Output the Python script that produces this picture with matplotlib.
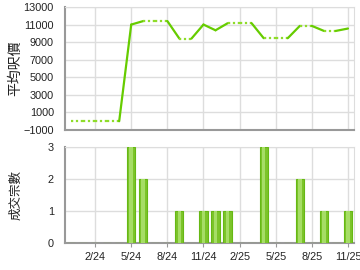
import numpy as np, matplotlib; matplotlib.use('Agg')
import matplotlib.pyplot as plt

plt.rcParams['font.family'] = ['Liberation Sans', 'Noto Sans CJK TC', 'DejaVu Sans']

# monthly series Dec-2023 .. Nov-2025 (None = no transaction that month)
months = ['12/23','1/24','2/24','3/24','4/24','5/24','6/24','7/24','8/24','9/24','10/24','11/24',
          '12/24','1/25','2/25','3/25','4/25','5/25','6/25','7/25','8/25','9/25','10/25','11/25']
price = [0, None, None, None, None, 11000, 11400, None, None, 9400, None, 11000,
         10350, 11150, None, None, 9450, None, None, 10850, None, 10280, None, 10550]
count = [0, 0, 0, 0, 0, 3, 2, 0, 0, 1, 0, 1, 1, 1, 0, 0, 3, 0, 0, 2, 0, 1, 0, 1]
tick_idx = [2, 5, 8, 11, 14, 17, 20, 23]
tick_lab = ['2/24','5/24','8/24','11/24','2/25','5/25','8/25','11/25']

fig = plt.figure(figsize=(3.6, 2.7), dpi=100)
ax1 = fig.add_axes([65/360, 1-130/270, 289/360, 123/270])
ax2 = fig.add_axes([65/360, 1-243/270, 289/360, 96/270])

for ax in (ax1, ax2):
    ax.set_xlim(-0.5, 23.5)
    ax.set_xticks(tick_idx)
    ax.grid(True, color='#dddddd', lw=1)
    ax.set_axisbelow(True)
    for s in ('top', 'right'):
        ax.spines[s].set_color('#dddddd')
    for s in ('left', 'bottom'):
        ax.spines[s].set_color('#999999'); ax.spines[s].set_linewidth(1.5)
    ax.tick_params(axis='y', length=0, labelsize=7.8, colors='#222222', pad=8)
    ax.tick_params(axis='x', length=3, color='#999999', labelsize=7.8, labelcolor='#222222')

# carry last value forward; solid where next month has data, dotted otherwise
filled = []
last = price[0]
for v in price:
    if v is not None: last = v
    filled.append(last)
x = np.arange(len(months))
for i in range(len(months)-1):
    solid = price[i+1] is not None
    if solid:
        ax1.plot(x[i:i+2], filled[i:i+2], color='#66cc00', lw=1.6, solid_capstyle='round')
    else:
        ax1.plot(x[i:i+2], filled[i:i+2], color='#8fdc2a', lw=1.6, ls=(0, (1, 1.2)))
ax1.set_ylim(-1000, 13000)
ax1.set_yticks(range(-1000, 13001, 2000))
ax1.set_xticklabels([])
ax1.tick_params(axis='x', length=0)
ax1.set_ylabel('平均呎價', fontsize=10, family=['Noto Sans CJK TC'], color='#222222')
ax1.yaxis.set_label_coords(-43/289, 0.5)

cnt = np.array(count, dtype=float)
ax2.bar(x, cnt, width=0.68, color='#7cc42a', edgecolor='#66b814', lw=0.8, zorder=3)
ax2.bar(x, cnt, width=0.3, color='#a6dd66', lw=0, zorder=4)
ax2.set_ylim(0, 3)
ax2.set_yticks([0, 1, 2, 3])
ax2.set_xticklabels(tick_lab)
ax2.set_ylabel('成交宗數', fontsize=9, family=['Noto Sans CJK TC'], color='#222222')
ax2.yaxis.set_label_coords(-43/289, 0.5)

fig.savefig('out.png', dpi=100)
